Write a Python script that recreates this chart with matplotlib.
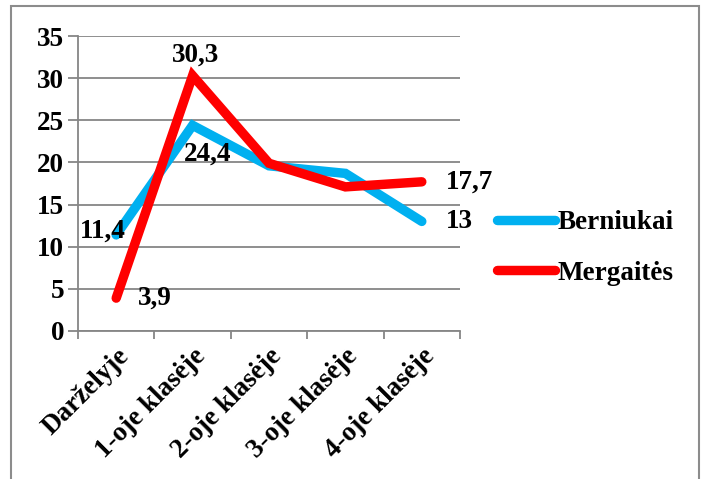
import matplotlib
matplotlib.use("Agg")
import matplotlib.pyplot as plt
from matplotlib.patches import Rectangle

categories = ["Darželyje", "1-oje klasėje", "2-oje klasėje", "3-oje klasėje", "4-oje klasėje"]
berniukai = [11.4, 24.4, 19.6, 18.7, 13.0]
mergaites = [3.9, 30.3, 19.9, 17.1, 17.7]
series_names = ["Berniukai", "Mergaitės"]
blue_labels = ["11,4", "24,4", None, None, "13"]
red_labels = ["3,9", "30,3", None, None, "17,7"]

plt.rcParams['font.family'] = ['Liberation Serif', 'DejaVu Serif']
plt.rcParams['font.weight'] = 'bold'
FS = 19.5

W, H = 705, 479
fig = plt.figure(figsize=(W/100, H/100), dpi=100)
ax = fig.add_axes([78/W, 1-331/H, (460-78)/W, (331-36)/H])

x = list(range(len(categories)))
lb, = ax.plot(x, berniukai, color='#00B0F0', lw=6.8, solid_capstyle='round', solid_joinstyle='miter', label=series_names[0], zorder=3)
lr, = ax.plot(x, mergaites, color='#FF0000', lw=6.8, solid_capstyle='round', solid_joinstyle='miter', label=series_names[1], zorder=4)

ax.set_xlim(-0.5, len(categories) - 0.5)
ax.set_ylim(0, 35)
ax.set_yticks(range(0, 36, 5))
ax.set_yticklabels([str(v) for v in range(0, 36, 5)], fontsize=FS, fontweight='bold')
ax.yaxis.grid(True, color='#868686', lw=1.3)
ax.set_axisbelow(True)
for s in ['top', 'right']:
    ax.spines[s].set_visible(False)
for s in ['left', 'bottom']:
    ax.spines[s].set_color('#868686')
    ax.spines[s].set_linewidth(1.3)
ax.tick_params(axis='y', length=7, width=1.3, color='#868686', pad=3, direction='out')
ax.set_xticks([i - 0.5 for i in range(len(categories) + 1)], minor=False)
ax.set_xticklabels([''] * (len(categories) + 1))
ax.tick_params(axis='x', length=6, width=1.3, color='#868686')
ax.set_xticks(x, minor=True)
ax.set_xticklabels(categories, minor=True, rotation=45, ha='right', va='top', rotation_mode='anchor', fontsize=FS, fontweight='bold')
ax.tick_params(axis='x', which='minor', length=0, pad=9)

# data labels (offsets in points)
offs_b = [(7, 3, 'right', 'center'), (-6.5, -12, 'left', 'top'), None, None, (17, 0, 'left', 'center')]
offs_r = [(16, 0, 'left', 'center'), (2, 15, 'center', 'center'), None, None, (17, 0, 'left', 'center')]
for i in range(len(categories)):
    if blue_labels[i]:
        dx, dy, ha, va = offs_b[i]
        ax.annotate(blue_labels[i], (x[i], berniukai[i]), xytext=(dx, dy), textcoords='offset points',
                    ha=ha, va=va, fontsize=FS, fontweight='bold', zorder=5, annotation_clip=False)
    if red_labels[i]:
        dx, dy, ha, va = offs_r[i]
        ax.annotate(red_labels[i], (x[i], mergaites[i]), xytext=(dx, dy), textcoords='offset points',
                    ha=ha, va=va, fontsize=FS, fontweight='bold', zorder=5, annotation_clip=False)

fig.legend(handles=[lb, lr], loc='upper left', bbox_to_anchor=(497/W, 1-210/H), frameon=False,
           prop={'size': FS, 'weight': 'bold'}, handlelength=2.15, handletextpad=0.1, labelspacing=0.95,
           borderaxespad=0, borderpad=0)

fig.patches.append(Rectangle((11/W, -0.05), (699-11)/W, 1.05 - 6/H, transform=fig.transFigure,
                             fill=False, edgecolor='#8c8c8c', lw=1.5))

fig.savefig('out.png', dpi=100)
